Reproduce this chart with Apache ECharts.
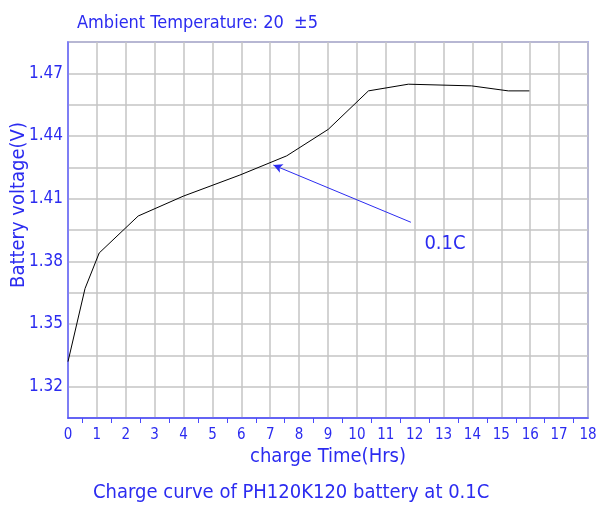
<!DOCTYPE html>
<html><head><meta charset="utf-8">
<script src="https://cdn.jsdelivr.net/npm/echarts@6/dist/echarts.min.js"></script>
<style>html,body{margin:0;padding:0;background:#fff}#c{width:600px;height:505px}</style>
</head><body><div id="c"></div>
<script>
var hours = [0, 0.59, 1.08, 2.43, 3.99, 5.95, 7.57, 9.01, 10.4, 11.78, 13.97, 15.24, 15.97];
var volts = [1.332, 1.367, 1.384, 1.4017, 1.4112, 1.4213, 1.4305, 1.4432, 1.4616, 1.4648, 1.464, 1.4616, 1.4616];
var arrowFrom = [11.87, 1.3987];
var arrowTo = [7.11, 1.4261];
var rateLabel = '0.1C';
var rateLabelAt = [13.05, 1.3885];
var titleText = 'Ambient Temperature: 20  \u00b15';
var subText = 'Charge curve of PH120K120 battery at 0.1C';
var xName = 'charge Time(Hrs)';
var yName = 'Battery voltage(V)';

var BLUE = '#2b2bf0';
var FONT = '"DejaVu Sans Condensed", "Roboto Condensed", "Liberation Sans", sans-serif';
var chart = echarts.init(document.getElementById('c'));
chart.setOption({
  animation: false,
  title: [
    {text: titleText, left: 72, top: 9, textStyle: {color: BLUE, fontSize: 18, fontWeight: 'normal', fontFamily: FONT}},
    {text: subText, left: 88, top: 478, textStyle: {color: BLUE, fontSize: 20, fontWeight: 'normal', fontFamily: FONT}}
  ],
  grid: {left: 68, right: 12, top: 42, bottom: 87, outerBoundsMode: 'none', containLabel: false,
    show: true, borderColor: '#6b6bff', borderWidth: 1.5},
  xAxis: {
    type: 'value', min: 0, max: 18, interval: 1,
    name: xName, nameLocation: 'middle', nameGap: 29, nameMoveOverlap: false,
    nameTextStyle: {color: BLUE, fontSize: 20, fontFamily: FONT},
    axisLine: {lineStyle: {color: '#4a4aff', width: 1.5}},
    axisTick: {show: true, inside: true, length: 0.01, lineStyle: {color: 'rgba(0,0,0,0)'}},
    minorTick: {show: true, splitNumber: 2, length: -5, lineStyle: {color: '#4a4aff'}},
    axisLabel: {color: BLUE, fontSize: 15, fontFamily: FONT, margin: 10},
    splitLine: {show: true, lineStyle: {color: '#c4c4c4', width: 1.5}}
  },
  yAxis: {
    type: 'value', min: 1.305, max: 1.485, interval: 0.015,
    name: yName, nameLocation: 'middle', nameGap: 39, nameMoveOverlap: false,
    nameTextStyle: {color: BLUE, fontSize: 20, fontFamily: FONT, padding: [0, 0, 0, 50]},
    axisLine: {lineStyle: {color: '#6b6bff', width: 1.5}},
    axisTick: {show: false},
    axisLabel: {color: BLUE, fontSize: 17, fontFamily: FONT, margin: 5,
      formatter: function (v) {
        var k = (v - 1.32) / 0.03;
        return Math.abs(k - Math.round(k)) < 1e-6 ? v.toFixed(2) : '';
      }},
    splitLine: {show: true, lineStyle: {color: '#c4c4c4', width: 1.5}}
  },
  series: [{
    type: 'line',
    data: hours.map(function (h, i) { return [h, volts[i]]; }),
    showSymbol: false,
    lineStyle: {color: '#000', width: 1},
    markLine: {
      silent: true, symbol: ['none', 'arrow'], symbolSize: [7, 9],
      lineStyle: {color: BLUE, width: 1, type: 'solid'},
      label: {show: false},
      data: [[{coord: arrowFrom}, {coord: arrowTo}]]
    },
    markPoint: {
      silent: true, symbol: 'circle', symbolSize: 1, itemStyle: {color: 'rgba(0,0,0,0)'},
      label: {show: true, position: 'inside', color: BLUE, fontSize: 20, fontFamily: FONT, formatter: rateLabel},
      data: [{coord: rateLabelAt}]
    }
  }]
});
</script></body></html>
